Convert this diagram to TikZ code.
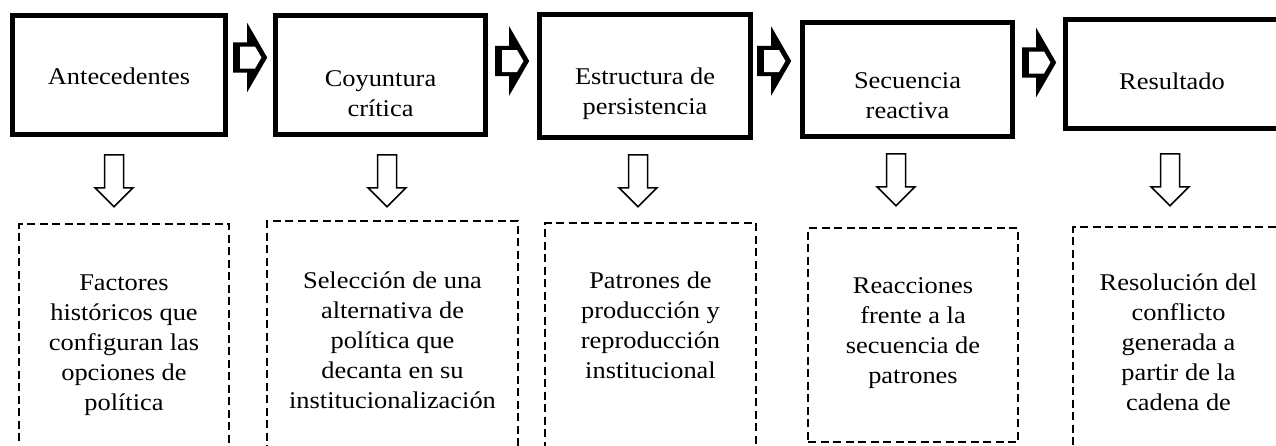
\documentclass[tikz,border=0pt]{standalone}
\usepackage{fontspec}
\setmainfont{Liberation Serif}[FakeStretch=1.1]
\usetikzlibrary{shapes.arrows,calc}

\tikzset{
  etapa/.style={draw, line width=5.5pt, inner sep=0pt, anchor=base},
  nota/.style={draw, line width=2pt, dash pattern=on 8pt off 4.5pt, inner sep=0pt, anchor=base},
  flecha/.style={single arrow, fill=black, inner sep=0pt, text height=15pt, text depth=15pt,
    minimum height=34pt, single arrow head extend=19.5pt, single arrow tip angle=120, anchor=tail},
  bajada/.style={single arrow, draw, line width=1.5pt, fill=white, inner sep=0pt,
    text height=8.75pt, text depth=8.75pt, minimum height=52pt,
    single arrow head extend=9.5pt, rotate=-90, anchor=tail}
}
% varias lineas, con la base en la primera
\newcommand{\lineas}[1]{\begin{tabular}[t]{@{}c@{}}#1\end{tabular}}
\newcommand{\hueco}[1]{\fill[white] ($(#1.tail)+(7,-11)$) -- ($(#1.tail)+(22,-11)$)
  -- ($(#1.tip)+(-6,0)$) -- ($(#1.tail)+(22,11)$) -- ($(#1.tail)+(7,11)$) -- cycle;}

\begin{document}
\begin{tikzpicture}[x=1pt,y=-1pt,font=\fontsize{24}{30}\selectfont]
  \useasboundingbox (0,0) rectangle (1276,445);

  % etapas
  \node[etapa, minimum width=213pt, text height=68.5pt, text depth=50.5pt] (ante) at (119,84) {Antecedentes};
  \node[etapa, minimum width=210pt, text height=70.5pt, text depth=48.5pt] (coyu) at (380.5,86) {\lineas{Coyuntura\\crítica}};
  \node[etapa, minimum width=211pt, text height=69.5pt, text depth=53.5pt] (estr) at (645,84) {\lineas{Estructura de\\persistencia}};
  \node[etapa, minimum width=210pt, text height=65.5pt, text depth=48.5pt] (secu) at (907.5,88) {\lineas{Secuencia\\reactiva}};
  \node[etapa, minimum width=213pt, text height=69.5pt, text depth=39.5pt] (resu) at (1172,89) {Resultado};

  % flechas entre etapas
  \node[flecha] (f1) at (233,57.5) {};
  \node[flecha] (f2) at (495,61) {};
  \node[flecha] (f3) at (757,61) {};
  \node[flecha] (f4) at (1022,62.5) {};
  \hueco{f1} \hueco{f2} \hueco{f3} \hueco{f4}

  % flechas hacia abajo
  \node[bajada] (d1) at (114,154) {};
  \node[bajada] (d2) at (387,154) {};
  \node[bajada] (d3) at (638,154) {};
  \node[bajada] (d4) at (896,153) {};
  \node[bajada] (d5) at (1170,153) {};

  % descripciones
  \node[nota, minimum width=210pt, text height=66pt, text depth=180pt] (n1) at (124,290)
    {\lineas{Factores\\históricos que\\configuran las\\opciones de\\política}};
  \node[nota, minimum width=251pt, text height=67pt, text depth=182pt] (n2) at (392.5,288)
    {\lineas{Selección de una\\alternativa de\\política que\\decanta en su\\institucionalización}};
  \node[nota, minimum width=211pt, text height=65pt, text depth=182pt] (n3) at (650.5,288)
    {\lineas{Patrones de\\producción y\\reproducción\\institucional}};
  \node[nota, minimum width=210pt, text height=65pt, text depth=149pt] (n4) at (913,293)
    {\lineas{Reacciones\\frente a la\\secuencia de\\patrones}};
  \node[nota, minimum width=211pt, text height=63pt, text depth=180pt] (n5) at (1178.5,290)
    {\lineas{Resolución del\\conflicto\\generada a\\partir de la\\cadena de}};
\end{tikzpicture}
\end{document}
